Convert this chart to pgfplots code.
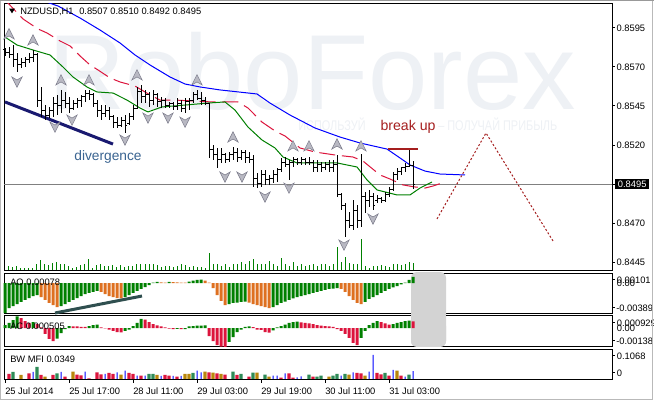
\documentclass[border=0pt]{standalone}
\usepackage{pgfplots}
\pgfplotsset{compat=1.18}
\usepackage{pgfplotstable}
\usepackage{fontspec}
\setmainfont{Liberation Sans}
\newfontfamily\wmfont[FakeStretch=0.78]{Liberation Sans}
\definecolor{aogreen}{RGB}{0,128,0}
\definecolor{aoorange}{RGB}{222,112,32}
\definecolor{acred}{RGB}{220,20,60}
\definecolor{mfigreen}{RGB}{46,139,87}
\definecolor{mfibrown}{RGB}{184,134,11}
\definecolor{wm}{RGB}{238,241,245}
\definecolor{brk}{RGB}{165,30,30}
\definecolor{divc}{RGB}{58,100,145}
\definecolor{divl}{RGB}{25,25,112}
\definecolor{aoline}{RGB}{47,79,79}
\definecolor{fracfill}{RGB}{185,185,195}
\definecolor{fracdraw}{RGB}{125,125,140}
\definecolor{rectgray}{RGB}{211,211,211}
\definecolor{teeth}{RGB}{220,20,60}

\pgfdeclareplotmark{otick}{\pgfpathmoveto{\pgfqpoint{-1.6pt}{0pt}}\pgfpathlineto{\pgfqpoint{0pt}{0pt}}\pgfusepathqstroke}
\pgfdeclareplotmark{ctick}{\pgfpathmoveto{\pgfqpoint{0pt}{0pt}}\pgfpathlineto{\pgfqpoint{1.6pt}{0pt}}\pgfusepathqstroke}
\pgfdeclareplotmark{fup}{%
 \pgfpathmoveto{\pgfqpoint{0pt}{4pt}}%
 \pgfpathlineto{\pgfqpoint{3.9pt}{-3.8pt}}%
 \pgfpathlineto{\pgfqpoint{0pt}{-1.5pt}}%
 \pgfpathlineto{\pgfqpoint{-3.9pt}{-3.8pt}}%
 \pgfpathclose\pgfusepathqfillstroke}
\pgfdeclareplotmark{fdown}{%
 \pgfpathmoveto{\pgfqpoint{0pt}{-4pt}}%
 \pgfpathlineto{\pgfqpoint{3.9pt}{3.8pt}}%
 \pgfpathlineto{\pgfqpoint{0pt}{1.5pt}}%
 \pgfpathlineto{\pgfqpoint{-3.9pt}{3.8pt}}%
 \pgfpathclose\pgfusepathqfillstroke}

\pgfplotsset{
  panel/.style={scale only axis, width=456pt, xmin=-0.25, xmax=151.75,
    axis line style={black, line width=0.75pt}, xtick=\empty, ytick=\empty,
    anchor=south west},
  hbar/.style={ybar, bar shift=0pt, draw=none, bar width=#1}
}

\pgfplotstableread{
n o h l c
0 0.85809 0.85822 0.85771 0.85796
1 0.85796 0.85828 0.85758 0.85777
2 0.85777 0.85841 0.85700 0.85745
3 0.85745 0.85790 0.85668 0.85713
4 0.85713 0.85758 0.85694 0.85732
5 0.85732 0.85764 0.85700 0.85745
6 0.85745 0.85790 0.85726 0.85764
7 0.85764 0.85809 0.85732 0.85777
8 0.85777 0.85790 0.85444 0.85488
9 0.85488 0.85572 0.85380 0.85424
10 0.85424 0.85456 0.85360 0.85392
11 0.85392 0.85444 0.85373 0.85424
12 0.85424 0.85508 0.85380 0.85469
13 0.85469 0.85521 0.85392 0.85456
14 0.85456 0.85553 0.85405 0.85488
15 0.85488 0.85540 0.85437 0.85469
16 0.85469 0.85508 0.85405 0.85437
17 0.85437 0.85488 0.85424 0.85469
18 0.85469 0.85501 0.85437 0.85488
19 0.85488 0.85521 0.85444 0.85508
20 0.85508 0.85553 0.85476 0.85533
21 0.85533 0.85553 0.85488 0.85521
22 0.85521 0.85533 0.85444 0.85469
23 0.85469 0.85488 0.85380 0.85424
24 0.85424 0.85456 0.85360 0.85405
25 0.85405 0.85456 0.85380 0.85424
26 0.85424 0.85444 0.85360 0.85380
27 0.85380 0.85392 0.85309 0.85347
28 0.85347 0.85380 0.85309 0.85328
29 0.85328 0.85380 0.85315 0.85360
30 0.85360 0.85392 0.85277 0.85328
31 0.85341 0.85405 0.85328 0.85380
32 0.85380 0.85456 0.85360 0.85437
33 0.85437 0.85572 0.85431 0.85540
34 0.85540 0.85585 0.85469 0.85508
35 0.85508 0.85553 0.85469 0.85521
36 0.85521 0.85540 0.85444 0.85488
37 0.85488 0.85553 0.85456 0.85521
38 0.85521 0.85533 0.85444 0.85476
39 0.85476 0.85508 0.85437 0.85488
40 0.85488 0.85501 0.85437 0.85456
41 0.85456 0.85476 0.85437 0.85463
42 0.85463 0.85476 0.85424 0.85444
43 0.85444 0.85501 0.85424 0.85469
44 0.85469 0.85488 0.85412 0.85437
45 0.85437 0.85501 0.85405 0.85476
46 0.85476 0.85501 0.85424 0.85488
47 0.85488 0.85540 0.85469 0.85521
48 0.85521 0.85553 0.85488 0.85501
49 0.85501 0.85540 0.85456 0.85488
50 0.85488 0.85508 0.85456 0.85463
51 0.85463 0.85469 0.85117 0.85168
52 0.85168 0.85200 0.85104 0.85136
53 0.85136 0.85181 0.85053 0.85104
54 0.85104 0.85181 0.85085 0.85136
55 0.85136 0.85149 0.85085 0.85104
56 0.85104 0.85155 0.85091 0.85136
57 0.85136 0.85187 0.85104 0.85155
58 0.85155 0.85181 0.85091 0.85123
59 0.85123 0.85168 0.85104 0.85149
60 0.85149 0.85168 0.85085 0.85117
61 0.85117 0.85155 0.85085 0.85104
62 0.85104 0.85136 0.84931 0.84988
63 0.84988 0.85021 0.84924 0.84956
64 0.84956 0.85040 0.84931 0.85008
65 0.85008 0.85040 0.84944 0.84976
66 0.84976 0.85008 0.84944 0.84988
67 0.84988 0.85040 0.84956 0.85008
68 0.85008 0.85053 0.84963 0.85040
69 0.85040 0.85117 0.85027 0.85091
70 0.85091 0.85123 0.85059 0.85072
71 0.85072 0.85104 0.84976 0.85085
72 0.85085 0.85123 0.85059 0.85104
73 0.85104 0.85117 0.85072 0.85091
74 0.85091 0.85123 0.85072 0.85104
75 0.85104 0.85117 0.85072 0.85085
76 0.85085 0.85123 0.85072 0.85091
77 0.85091 0.85104 0.85027 0.85053
78 0.85053 0.85104 0.85027 0.85072
79 0.85072 0.85091 0.85027 0.85053
80 0.85053 0.85091 0.85040 0.85072
81 0.85072 0.85104 0.85027 0.85053
82 0.85053 0.85104 0.85027 0.85072
83 0.85072 0.85136 0.84867 0.84880
84 0.84880 0.84892 0.84783 0.84815
85 0.84815 0.84828 0.84610 0.84719
86 0.84719 0.84771 0.84668 0.84687
87 0.84687 0.84847 0.84655 0.84783
88 0.84783 0.84815 0.84668 0.84719
89 0.84719 0.85142 0.84674 0.84867
90 0.84867 0.84899 0.84764 0.84847
91 0.84847 0.84912 0.84803 0.84867
92 0.84867 0.84892 0.84783 0.84815
93 0.84847 0.84880 0.84828 0.84860
94 0.84860 0.84867 0.84828 0.84847
95 0.84847 0.84899 0.84835 0.84880
96 0.84880 0.84931 0.84867 0.84912
97 0.84912 0.85027 0.84905 0.85008
98 0.85008 0.85053 0.84976 0.85027
99 0.85027 0.85059 0.85008 0.85053
100 0.85053 0.85085 0.85027 0.85065
101 0.85065 0.85181 0.85059 0.85070
102 0.8507 0.8510 0.8492 0.8495
}\ohlc

\pgfplotstableread{
n v
0 30
1 50
2 40
3 50
4 30
5 25
6 25
7 30
8 70
9 110
10 70
11 60
12 80
13 90
14 70
15 70
16 50
17 30
18 40
19 60
20 70
21 120
22 30
23 60
24 70
25 50
26 50
27 60
28 40
29 60
30 40
31 50
32 50
33 70
34 70
35 70
36 70
37 70
38 60
39 40
40 50
41 50
42 40
43 50
44 70
45 60
46 40
47 50
48 40
49 40
50 30
51 180
52 70
53 70
54 50
55 70
56 40
57 70
58 70
59 90
60 70
61 100
62 120
63 70
64 70
65 70
66 100
67 70
68 50
69 130
70 70
71 50
72 90
73 50
74 70
75 50
76 60
77 70
78 50
79 70
80 70
81 50
82 70
83 240
84 90
85 140
86 80
87 70
88 70
89 320
90 50
91 30
92 50
93 50
94 60
95 50
96 40
97 70
98 70
99 60
100 70
101 90
102 80
}\vol

% AO: g = rising (green), o = falling (orange)
\pgfplotstableread{
n g o
0 -0.00389 nan
1 -0.00323 nan
2 -0.00297 nan
3 -0.00271 nan
4 -0.00245 nan
5 -0.00219 nan
6 -0.00194 nan
7 -0.00168 nan
8 -0.00155 nan
9 nan -0.00181
10 nan -0.00219
11 nan -0.00258
12 nan -0.00284
13 nan -0.00310
14 -0.00297 nan
15 -0.00271 nan
16 -0.00245 nan
17 -0.00219 nan
18 -0.00194 nan
19 -0.00168 nan
20 -0.00142 nan
21 -0.00129 nan
22 -0.00116 nan
23 -0.00103 nan
24 nan -0.00116
25 nan -0.00142
26 nan -0.00168
27 nan -0.00181
28 nan -0.00194
29 nan -0.00200
30 -0.00181 nan
31 -0.00155 nan
32 -0.00129 nan
33 -0.00103 nan
34 -0.00077 nan
35 -0.00052 nan
36 -0.00026 nan
37 0.00006 nan
38 0.00013 nan
39 nan 0.00009
40 nan 0.00006
41 0.00013 nan
42 nan 0.00010
43 nan 0.00008
44 nan 0.00005
45 nan 0.00004
46 0.00019 nan
47 0.00032 nan
48 0.00039 nan
49 0.00045 nan
50 nan 0.00032
51 nan 0.00006
52 nan -0.00065
53 nan -0.00155
54 nan -0.00232
55 nan -0.00284
56 -0.00271 nan
57 -0.00258 nan
58 -0.00252 nan
59 -0.00245 nan
60 -0.00239 nan
61 nan -0.00252
62 nan -0.00271
63 nan -0.00284
64 nan -0.00297
65 nan -0.00310
66 nan -0.00323
67 -0.00310 nan
68 -0.00284 nan
69 -0.00258 nan
70 -0.00239 nan
71 -0.00219 nan
72 -0.00200 nan
73 -0.00181 nan
74 -0.00168 nan
75 -0.00155 nan
76 -0.00142 nan
77 -0.00129 nan
78 -0.00116 nan
79 -0.00103 nan
80 -0.00090 nan
81 -0.00077 nan
82 -0.00071 nan
83 -0.00065 nan
84 nan -0.00077
85 nan -0.00116
86 nan -0.00168
87 nan -0.00219
88 nan -0.00258
89 nan -0.00271
90 -0.00245 nan
91 -0.00206 nan
92 -0.00181 nan
93 -0.00155 nan
94 -0.00129 nan
95 -0.00103 nan
96 -0.00077 nan
97 -0.00058 nan
98 -0.00039 nan
99 -0.00019 nan
100 0.00006 nan
101 0.00039 nan
102 0.00078 nan
}\ao

% AC: g = green, r = red
\pgfplotstableread{
n g r
0 0.00023 nan
1 0.00039 nan
2 0.00062 nan
3 0.00090 nan
4 nan 0.00077
5 nan 0.00054
6 nan 0.00039
7 0.00046 nan
8 nan 0.00031
9 nan 0.00004
10 nan -0.00046
11 nan -0.00085
12 nan -0.00101
13 -0.00083 nan
14 -0.00039 nan
15 -0.00008 nan
16 0.00015 nan
17 nan 0.00013
18 nan 0.00012
19 nan 0.00009
20 nan 0.00008
21 0.00015 nan
22 0.00023 nan
23 0.00026 nan
24 nan 0.00005
25 nan -0.00002
26 nan -0.00012
27 nan -0.00023
28 nan -0.00031
29 nan -0.00033
30 -0.00023 nan
31 -0.00012 nan
32 0.00015 nan
33 0.00039 nan
34 0.00070 nan
35 nan 0.00064
36 nan 0.00046
37 nan 0.00031
38 nan 0.00021
39 nan 0.00012
40 nan 0.00004
41 nan -0.00004
42 nan -0.00008
43 -0.00006 nan
44 nan -0.00009
45 -0.00008 nan
46 0.00013 nan
47 0.00015 nan
48 0.00018 nan
49 0.00019 nan
50 0.00021 nan
51 nan -0.00062
52 nan -0.00101
53 nan -0.00132
54 nan -0.00145
55 nan -0.00146
56 -0.00108 nan
57 -0.00070 nan
58 -0.00031 nan
59 -0.00012 nan
60 0.00008 nan
61 0.00012 nan
62 nan 0.00006
63 nan -0.00012
64 nan -0.00015
65 nan -0.00031
66 nan -0.00035
67 -0.00019 nan
68 0.00004 nan
69 0.00015 nan
70 0.00027 nan
71 0.00039 nan
72 0.00046 nan
73 0.00050 nan
74 nan 0.00043
75 nan 0.00039
76 nan 0.00035
77 nan 0.00031
78 nan 0.00023
79 nan 0.00019
80 nan 0.00015
81 nan 0.00012
82 nan 0.00008
83 nan -0.00008
84 nan -0.00023
85 nan -0.00046
86 nan -0.00077
87 nan -0.00116
88 nan -0.00132
89 -0.00077 nan
90 -0.00023 nan
91 0.00023 nan
92 0.00039 nan
93 0.00054 nan
94 nan 0.00046
95 nan 0.00035
96 nan 0.00027
97 0.00031 nan
98 0.00039 nan
99 0.00046 nan
100 0.00054 nan
101 0.00058 nan
102 nan 0.000505
}\ac

% BW MFI: g = green, b = brown, r = red, u = blue
\pgfplotstableread{
n g b r u
1 nan nan 0.0223 nan
2 0.0312 nan nan nan
4 nan 0.0178 nan nan
6 nan nan 0.0254 nan
7 nan nan nan 0.0312
8 0.0534 nan nan nan
9 nan nan 0.0178 nan
10 nan 0.0102 nan nan
12 nan nan 0.0178 nan
13 0.0254 nan nan nan
14 nan nan nan 0.0312
15 nan nan 0.0102 nan
17 nan 0.0325 nan nan
18 nan nan 0.0191 nan
19 nan nan 0.0165 nan
20 nan nan nan 0.0325
21 nan nan 0.0031 nan
23 nan nan 0.0298 nan
24 nan nan 0.0209 nan
25 nan nan nan 0.0223
26 nan nan 0.0267 nan
27 nan nan 0.0223 nan
28 nan nan nan 0.0298
29 nan 0.0191 nan nan
30 nan nan nan 0.0369
31 nan nan 0.0267 nan
32 nan nan 0.0223 nan
33 nan nan nan 0.0147
34 nan nan 0.0147 nan
35 nan nan nan 0.0147
36 0.0223 nan nan nan
37 0.0223 nan nan nan
38 nan 0.0178 nan nan
39 nan nan nan 0.0134
40 nan nan 0.0178 nan
41 nan nan 0.0147 nan
42 nan nan nan 0.0134
43 nan nan 0.0102 nan
44 nan nan nan 0.0134
45 nan 0.0223 nan nan
46 nan 0.0223 nan nan
47 0.0267 nan nan nan
48 nan nan nan 0.0369
49 nan nan nan 0.0298
50 nan 0.0325 nan nan
51 nan nan 0.0298 nan
52 nan 0.0280 nan nan
53 nan nan 0.0254 nan
54 nan 0.0223 nan nan
55 nan nan 0.0191 nan
57 0.0325 nan nan nan
58 nan nan 0.0178 nan
59 0.0223 nan nan nan
61 nan nan 0.0102 nan
62 0.0280 nan nan nan
63 nan 0.0280 nan nan
65 0.0191 nan nan nan
66 nan 0.0102 nan nan
67 nan nan nan 0.0147
68 nan nan nan 0.0147
69 nan nan 0.0058 nan
70 nan nan nan 0.0254
71 nan nan 0.0254 nan
72 nan nan 0.0058 nan
73 nan nan nan 0.0076
74 nan nan nan 0.0120
76 0.0191 nan nan nan
77 nan nan 0.0102 nan
78 0.0102 nan nan nan
79 0.0147 nan nan nan
81 nan 0.0102 nan nan
82 0.0147 nan nan nan
83 0.0223 nan nan nan
84 nan nan nan 0.0147
85 0.0223 nan nan nan
86 nan 0.0191 nan nan
87 nan nan nan 0.0298
88 nan nan 0.0267 nan
89 nan nan 0.0254 nan
90 nan 0.0147 nan nan
91 nan nan nan 0.0325
92 nan nan nan 0.1068
93 nan nan 0.0267 nan
94 nan nan 0.0209 nan
95 0.0267 nan nan nan
96 nan nan 0.0147 nan
97 nan nan nan 0.0401
98 nan 0.0369 nan nan
99 nan nan 0.0147 nan
100 nan nan nan 0.0102
101 0.0191 nan nan nan
102 nan nan nan 0.0349
}\mfi

\pgfplotstableread{
n p
1 0.85912
7 0.85873
14 0.85617
21 0.85617
33 0.85649
48 0.85617
57 0.85251
72 0.85194
76 0.85194
83 0.85206
89 0.85194
}\fup

\pgfplotstableread{
n p
3 0.85604
12.5 0.85315
16.75 0.85360
30 0.85232
35.75 0.85373
40.75 0.85373
45 0.85347
55 0.84995
59.25 0.84995
65 0.84867
71 0.84924
84.75 0.84559
92 0.84726
}\fdn

\begin{document}
\begin{tikzpicture}[x=1pt,y=1pt]
\useasboundingbox (0,0) rectangle (490.5,300);
\fill[white] (0,0) rectangle (490.5,300);
% watermark
\node[anchor=base west, inner sep=0pt, text=wm, font=\fontsize{80}{80}\selectfont] at (36,217.5) {RoboForex};
\node[anchor=base west, inner sep=0pt, text=wm, font=\wmfont\fontsize{10.5}{11}\selectfont] at (223.5,202.3) {ИСПОЛЬЗУЙ};
\node[anchor=base west, inner sep=0pt, text=wm, font=\wmfont\fontsize{10.5}{11}\selectfont] at (328.5,202.3) {– ПОЛУЧАЙ ПРИБЫЛЬ};

% volume (main window)
\begin{axis}[panel, at={(3pt,96.75pt)}, height=200.25pt, ymin=0, ymax=2670, hide axis]
\addplot[ycomb, color=aogreen, line width=0.75pt, mark=none] table[x=n,y=v]{\vol};
\end{axis}

% main price window
\begin{axis}[panel, at={(3pt,96.75pt)}, height=200.25pt,
  ymin=0.843924, ymax=0.861038,
  ytick={0.8445,0.8470,0.8520,0.8545,0.8570,0.8595},
  extra y ticks={0.8495},
  ytick pos=right, yticklabel pos=right, tick align=outside,
  major tick length=2.25pt, tick style={black, line width=0.75pt},
  yticklabel style={font=\fontsize{7}{8}\selectfont, inner xsep=1pt,
    /pgf/number format/fixed, /pgf/number format/fixed zerofill,
    /pgf/number format/precision=4, /pgf/number format/assume math mode=true},
  extra y tick style={yticklabel style={fill=black, text=white, inner xsep=2pt, inner ysep=1.5pt}}]
\addplot[gray, line width=0.75pt] coordinates {(-0.25,0.8495) (151.75,0.8495)};
% Alligator
\addplot[blue, line width=0.75pt] coordinates {(8.75,0.86130) (13.25,0.86091) (18.75,0.86014) (23.75,0.85937) (28.75,0.85854) (32.5,0.85777) (36.25,0.85713) (41.25,0.85636) (45,0.85591) (48.75,0.85572) (53.75,0.85553) (63,0.85527) (66.25,0.85469) (71.25,0.85392) (77.5,0.85309) (83.75,0.85251) (88.75,0.85213) (95.5,0.85174) (98.75,0.85117) (101.25,0.85072) (105,0.85033) (108.75,0.85014) (115,0.85008)};
\addplot[teeth, line width=0.75pt, dash pattern=on 12pt off 5pt] coordinates {(0,0.86130) (4.5,0.86008) (8.25,0.85944) (10.5,0.85918) (13.75,0.85867) (16.25,0.85835) (18.75,0.85771) (21.25,0.85713) (23.25,0.85681) (26.25,0.85630) (28.75,0.85604) (32.5,0.85578) (36.25,0.85521) (38.75,0.85488) (42.5,0.85488) (51.75,0.85476) (58.25,0.85476) (60.75,0.85437) (64.25,0.85347) (67.5,0.85290) (70,0.85258) (73.75,0.85181) (77.5,0.85155) (82.5,0.85136) (87,0.85123) (89.5,0.85097) (93.75,0.85008) (96.25,0.84982) (99.5,0.84944) (102.5,0.84931) (105,0.84924) (107,0.84937) (110,0.84963)};
\addplot[aogreen, line width=0.75pt] coordinates {(0,0.85892) (3,0.85841) (7,0.85809) (11.25,0.85777) (14.5,0.85700) (17,0.85636) (20.5,0.85572) (23,0.85540) (27,0.85533) (30.5,0.85488) (33.75,0.85437) (35.75,0.85412) (39.25,0.85444) (45,0.85456) (50.75,0.85469) (55,0.85476) (57.5,0.85424) (60.75,0.85315) (64.25,0.85232) (67.5,0.85181) (69.5,0.85123) (73,0.85085) (83,0.85085) (88,0.85059) (90.5,0.84976) (93,0.84912) (98,0.84880) (101.25,0.84880) (103.75,0.84924) (106.75,0.84963)};
% divergence line
\addplot[divl, line width=2.25pt] coordinates {(0,0.85476) (27,0.85206)};
% OHLC bars
\addplot[black, only marks, mark=otick, mark options={line width=0.75pt},
  error bars/.cd, y dir=both, y explicit, error mark=none,
  error bar style={black, line width=0.75pt}]
  table[x=n, y=o, y error plus expr=\thisrow{h}-\thisrow{o}, y error minus expr=\thisrow{o}-\thisrow{l}]{\ohlc};
\addplot[black, only marks, mark=ctick, mark options={line width=0.75pt}] table[x=n,y=c]{\ohlc};
% fractals
\addplot[only marks, mark=fup, mark options={fill=fracfill, draw=fracdraw, line width=0.4pt}] table[x=n,y=p]{\fup};
\addplot[only marks, mark=fdown, mark options={fill=fracfill, draw=fracdraw, line width=0.4pt}] table[x=n,y=p]{\fdn};
% break up line and forecast
\addplot[brk, line width=1.6pt] coordinates {(95.75,0.85174) (103.25,0.85174)};
\addplot[brk, line width=0.75pt, dash pattern=on 1.5pt off 1.5pt] coordinates {(108,0.84726) (120.25,0.85277) (137,0.84585)};
\node[text=divc, font=\fontsize{10.3}{12}\selectfont] at (axis cs:25.75,0.85123) {divergence};
\node[text=brk, font=\fontsize{10.6}{12}\selectfont, inner sep=0.5pt] at (axis cs:100.75,0.85315) {break up};
\end{axis}

% AO window
\begin{axis}[panel, at={(3pt,64.5pt)}, height=30.75pt, ymin=-0.0040, ymax=0.00129, clip=false]
\fill[rectgray, rounded corners=4.5pt] (rel axis cs:0.6694,1.0244) rectangle (rel axis cs:0.7270,-0.805);
\addplot[hbar=2.25pt, fill=aogreen] table[x=n,y=g]{\ao};
\addplot[hbar=2.25pt, fill=aoorange] table[x=n,y=o]{\ao};
\addplot[aoline, line width=2.25pt] coordinates {(12.5,-0.00387) (34.25,-0.00168)};
\end{axis}

% AC window
\begin{axis}[panel, at={(3pt,39.75pt)}, height=23.25pt, ymin=-0.00147, ymax=0.00093, clip=false]
\fill[rectgray, rounded corners=4.5pt] (rel axis cs:0.6694,0.871) rectangle (rel axis cs:0.7270,0);
\fill[rectgray] (rel axis cs:0.6694,1.0645) rectangle (rel axis cs:0.7270,0.387);
\addplot[hbar=2.25pt, fill=aogreen] table[x=n,y=g]{\ac};
\addplot[hbar=2.25pt, fill=acred] table[x=n,y=r]{\ac};
\end{axis}

% BW MFI window
\begin{axis}[panel, at={(3pt,15pt)}, height=22.5pt, ymin=-0.0045, ymax=0.129,
  xtick={0,16,32,48,64,80,96},
  xticklabels={25 Jul 2014, 25 Jul 17:00, 28 Jul 11:00, 29 Jul 03:00, 29 Jul 19:00, 30 Jul 11:00, 31 Jul 03:00},
  xtick pos=bottom, tick align=outside, major tick length=2.25pt, tick style={black, line width=0.75pt},
  xticklabel style={anchor=north west, inner xsep=0pt, font=\fontsize{7}{8}\selectfont}]
\addplot[hbar=2.6pt, fill=mfigreen] table[x=n,y=g]{\mfi};
\addplot[hbar=2.6pt, fill=mfibrown] table[x=n,y=b]{\mfi};
\addplot[hbar=2.6pt, fill=acred] table[x=n,y=r]{\mfi};
\addplot[hbar=0.75pt, fill=blue] table[x=n,y=u]{\mfi};
\end{axis}

% window labels
\fill[black] (6.75,293.6) -- (11.25,293.6) -- (9,290) -- cycle;
\node[anchor=west, inner sep=0pt, font=\fontsize{7}{8}\selectfont] at (15,291.2) {NZDUSD,H1\hspace{0.6em}0.8507 0.8510 0.8492 0.8495};
\node[anchor=west, inner sep=0pt, font=\fontsize{7}{8}\selectfont] at (7.5,88.5) {AO 0.00078};
\node[anchor=west, inner sep=0pt, font=\fontsize{7}{8}\selectfont] at (7.5,55.5) {AC 0.000505};
\node[anchor=west, inner sep=0pt, font=\fontsize{7}{8}\selectfont] at (7.5,30.75) {BW MFI 0.0349};
% right labels of sub-windows
\begin{scope}[font=\fontsize{7}{8}\selectfont]
\draw[line width=0.75pt] (459,90) -- (461.25,90) (459,69) -- (461.25,69) (459,57.75) -- (461.25,57.75) (459,44.25) -- (461.25,44.25) (459,33) -- (461.25,33) (459,20.25) -- (461.25,20.25);
\node[anchor=west, inner sep=0pt] at (462.5,89.6) {0.00101};
\node[anchor=west, inner sep=0pt] at (462.5,87.9) {0.00};
\node[anchor=west, inner sep=0pt] at (462,69) {-0.00389};
\node[anchor=west, inner sep=0pt] at (462.5,57.6) {0.000929};
\node[anchor=west, inner sep=0pt] at (462.5,53.8) {0.00};
\node[anchor=west, inner sep=0pt] at (462,43.9) {-0.00138};
\node[anchor=west, inner sep=0pt] at (462.5,32.6) {0.1068};
\node[anchor=west, inner sep=0pt] at (462.5,19.9) {0};
\end{scope}
% window frame
\draw[gray!55, line width=0.75pt] (0.4,0.4) rectangle (489.1,299.6);
\draw[gray!80, line width=1pt] (0,299.5) -- (490.5,299.5);
\end{tikzpicture}
\end{document}
